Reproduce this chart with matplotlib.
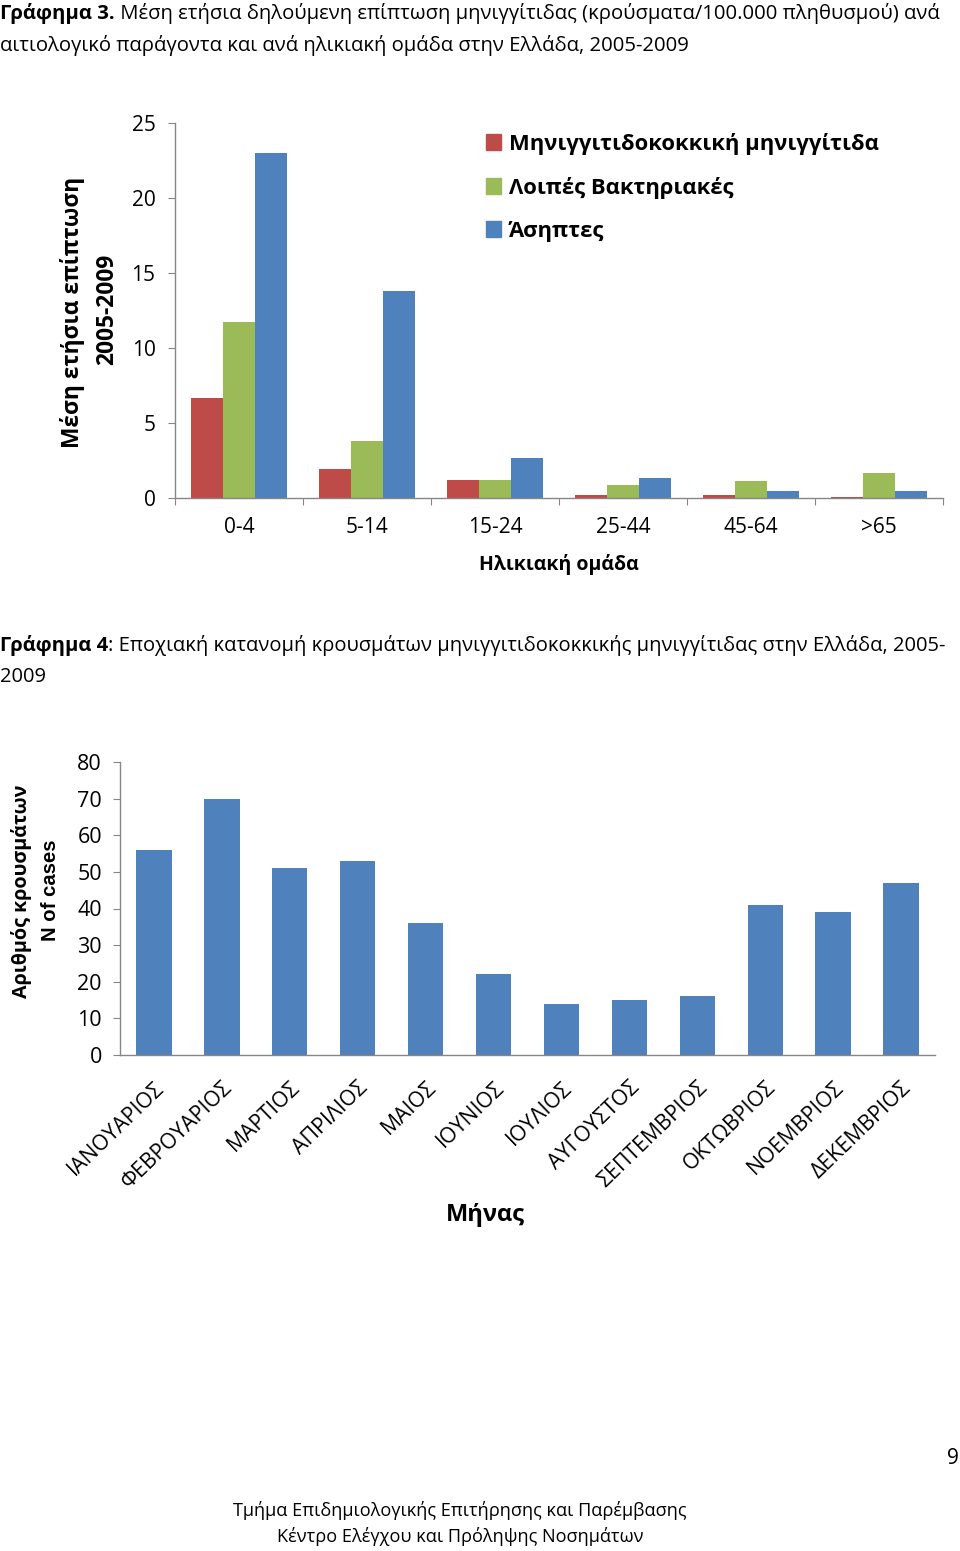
import numpy as np
import matplotlib
matplotlib.use("Agg")
import matplotlib.pyplot as plt
from matplotlib.patches import Patch

plt.rcParams["font.family"] = ["Open Sans", "DejaVu Sans"]

# Chart 3 data: mean annual incidence per 100.000, by age group
age_groups = ["0-4", "5-14", "15-24", "25-44", "45-64", ">65"]
meningococcal = [6.7, 1.95, 1.22, 0.22, 0.2, 0.1]
other_bacterial = [11.75, 3.8, 1.17, 0.9, 1.12, 1.65]
aseptic = [23.0, 13.8, 2.68, 1.35, 0.5, 0.5]
series_names = ["Μηνιγγιτιδοκοκκική μηνιγγίτιδα", "Λοιπές Βακτηριακές", "Άσηπτες"]
series_colors = ["#BE4B48", "#9BBB59", "#4F81BD"]

# Chart 4 data: meningococcal cases by month
months = ["ΙΑΝΟΥΑΡΙΟΣ", "ΦΕΒΡΟΥΑΡΙΟΣ", "ΜΑΡΤΙΟΣ", "ΑΠΡΙΛΙΟΣ", "ΜΑΙΟΣ", "ΙΟΥΝΙΟΣ",
          "ΙΟΥΛΙΟΣ", "ΑΥΓΟΥΣΤΟΣ", "ΣΕΠΤΕΜΒΡΙΟΣ", "ΟΚΤΩΒΡΙΟΣ", "ΝΟΕΜΒΡΙΟΣ", "ΔΕΚΕΜΒΡΙΟΣ"]
cases = [56, 70, 51, 53, 36, 22, 14, 15, 16, 41, 39, 47]

W, H = 960, 1551
AXIS_GRAY = "#868686"


def fx(x):
    return x / W


def fy(y):
    return 1 - y / H


def bold_then_normal(fig, x, y, bold, normal, size):
    # bold caption prefix, then the rest of the line right after it
    t = fig.text(fx(x), fy(y), bold, fontsize=size, fontweight="bold", va="center")
    r = fig.canvas.get_renderer()
    bb = t.get_window_extent(renderer=r)
    fig.text(bb.x1 / fig.dpi / fig.get_figwidth(), fy(y), normal, fontsize=size, va="center")


def style_axes(ax):
    for s in ["top", "right"]:
        ax.spines[s].set_visible(False)
    for s in ["left", "bottom"]:
        ax.spines[s].set_color(AXIS_GRAY)
        ax.spines[s].set_linewidth(1.0)
    ax.tick_params(colors=AXIS_GRAY, labelcolor="black", direction="out", length=5)


fig = plt.figure(figsize=(W / 100, H / 100), dpi=100)

# ---- titles
bold_then_normal(fig, 0, 13, "Γράφημα 3.",
                 " Μέση ετήσια δηλούμενη επίπτωση μηνιγγίτιδας (κρούσματα/100.000 πληθυσμού) ανά", 14.6)
fig.text(0, fy(45), "αιτιολογικό παράγοντα και ανά ηλικιακή ομάδα στην Ελλάδα, 2005-2009",
         fontsize=14.6, va="center")

bold_then_normal(fig, 0, 645, "Γράφημα 4",
                 ": Εποχιακή κατανομή κρουσμάτων μηνιγγιτιδοκοκκικής μηνιγγίτιδας στην Ελλάδα, 2005-", 14.5)
fig.text(0, fy(677), "2009", fontsize=14.5, va="center")

# ---- chart 3: grouped bars
ax1 = fig.add_axes([fx(175), fy(498), fx(943) - fx(175), fy(123) - fy(498)])
x = np.arange(len(age_groups))
bw = 0.25
for i, (vals, name, col) in enumerate(zip([meningococcal, other_bacterial, aseptic],
                                          series_names, series_colors)):
    ax1.bar(x + (i - 1) * bw, vals, width=bw, color=col, label=name)
ax1.set_xlim(-0.5, len(age_groups) - 0.5)
ax1.set_ylim(0, 25)
ax1.set_yticks([0, 5, 10, 15, 20, 25])
ax1.set_xticks(np.arange(-0.5, len(age_groups), 1.0))
ax1.set_xticklabels([])
ax1.set_xticks(x, minor=True)
ax1.set_xticklabels(age_groups, minor=True)
style_axes(ax1)
ax1.tick_params(axis="both", which="both", labelsize=15)
ax1.tick_params(axis="x", which="minor", length=0, pad=14)
ax1.tick_params(axis="y", pad=9)
ax1.set_xlabel("Ηλικιακή ομάδα", fontsize=14, fontweight="bold", labelpad=11)
fig.text(fx(73), fy(312), "Μέση ετήσια επίπτωση", rotation=90, fontsize=16.4,
         fontweight="bold", ha="center", va="center")
fig.text(fx(107), fy(309), "2005-2009", rotation=90, fontsize=16.4,
         fontweight="bold", ha="center", va="center")
handles = [Patch(color=c) for c in series_colors]
fig.legend(handles, series_names, loc="upper left",
           bbox_to_anchor=(fx(466), fy(113)), frameon=False,
           prop={"weight": "bold", "size": 15.8}, handlelength=0.7, handleheight=0.7,
           handletextpad=0.35, labelspacing=1.0)

# ---- chart 4: monthly bars
ax2 = fig.add_axes([fx(120), fy(1055), fx(935) - fx(120), fy(762) - fy(1055)])
m = np.arange(len(months))
ax2.bar(m, cases, width=0.52, color="#4F81BD")
ax2.set_xlim(-0.5, len(months) - 0.5)
ax2.set_ylim(0, 80)
ax2.set_yticks(np.arange(0, 81, 10))
style_axes(ax2)
ax2.tick_params(axis="y", labelsize=15.5, pad=8)
ax2.set_xticks(m)
ax2.set_xticklabels(months, rotation=44, ha="right", rotation_mode="anchor", fontsize=15.3)
ax2.tick_params(axis="x", length=0, pad=16)
ax2.set_xlabel("Μήνας", fontsize=17, fontweight="bold", labelpad=0)
ax2.xaxis.set_label_coords(fx(485 - 120) / (fx(935) - fx(120)), -(1203 - 1055) / (1055 - 762))
fig.text(fx(22), fy(891), "Αριθμός κρουσμάτων", rotation=90, fontsize=14.2,
         fontweight="bold", ha="center", va="center")
fig.text(fx(50), fy(890), "N of cases", rotation=90, fontsize=14.6,
         fontweight="bold", ha="center", va="center", family=["Liberation Sans", "DejaVu Sans"])

# ---- footer
fig.text(fx(953), fy(1458), "9", fontsize=15, ha="center", va="center")
fig.text(fx(460), fy(1511), "Τμήμα Επιδημιολογικής Επιτήρησης και Παρέμβασης",
         fontsize=13.1, ha="center", va="center")
fig.text(fx(460), fy(1537), "Κέντρο Ελέγχου και Πρόληψης Νοσημάτων",
         fontsize=13.1, ha="center", va="center")

fig.savefig("out.png", dpi=100)
plt.close(fig)
